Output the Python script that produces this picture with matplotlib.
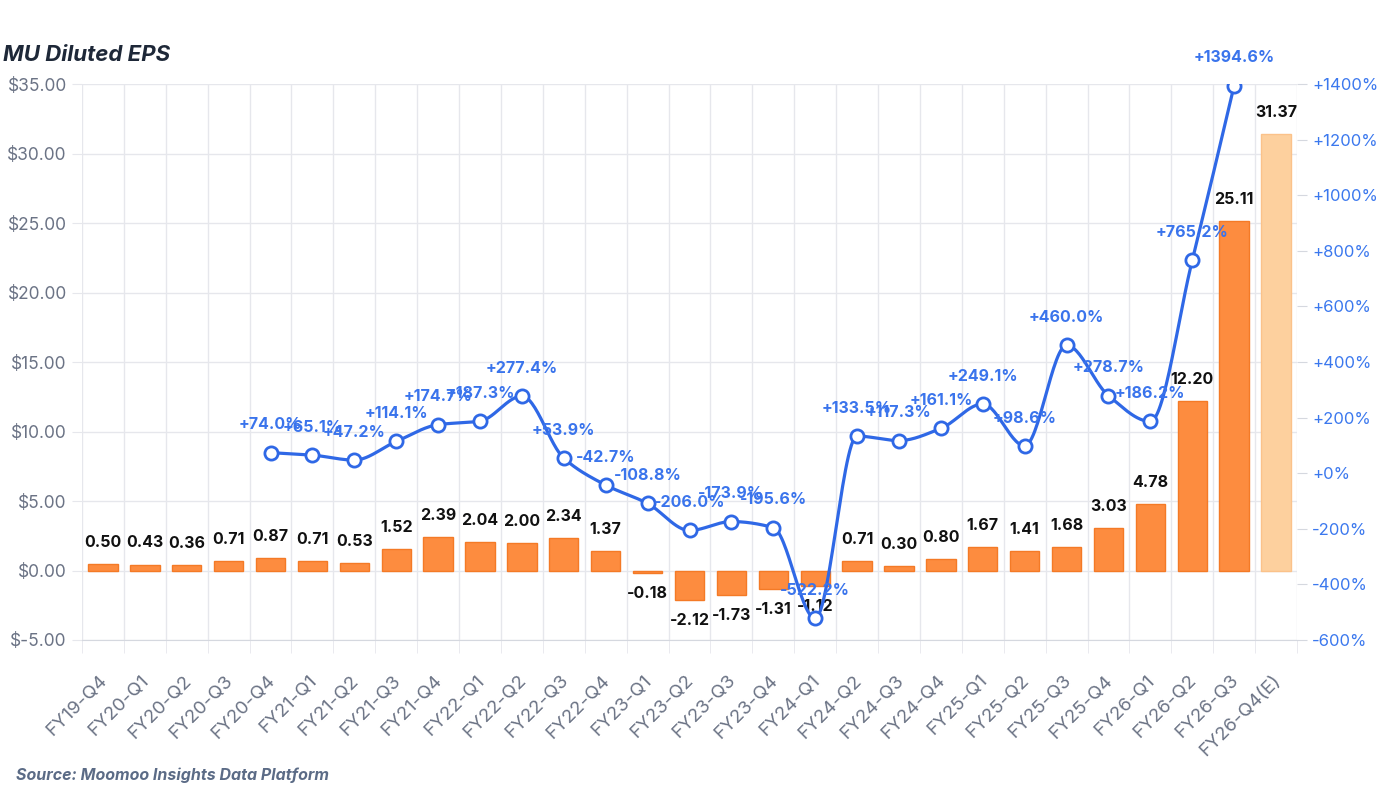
import numpy as np
import matplotlib
matplotlib.use("Agg")
import matplotlib.pyplot as plt
import matplotlib.transforms as mtransforms
from matplotlib.ticker import FixedLocator, FuncFormatter

plt.rcParams['font.family'] = ['Inter', 'DejaVu Sans']

categories = ["FY19-Q4", "FY20-Q1", "FY20-Q2", "FY20-Q3", "FY20-Q4", "FY21-Q1", "FY21-Q2",
              "FY21-Q3", "FY21-Q4", "FY22-Q1", "FY22-Q2", "FY22-Q3", "FY22-Q4", "FY23-Q1",
              "FY23-Q2", "FY23-Q3", "FY23-Q4", "FY24-Q1", "FY24-Q2", "FY24-Q3", "FY24-Q4",
              "FY25-Q1", "FY25-Q2", "FY25-Q3", "FY25-Q4", "FY26-Q1", "FY26-Q2", "FY26-Q3",
              "FY26-Q4(E)"]
eps = [0.50, 0.43, 0.36, 0.71, 0.87, 0.71, 0.53, 1.52, 2.39, 2.04, 2.00, 2.34, 1.37, -0.18,
       -2.12, -1.73, -1.31, -1.12, 0.71, 0.30, 0.80, 1.67, 1.41, 1.68, 3.03, 4.78, 12.20,
       25.11, 31.37]
estimate_flags = [False] * 28 + [True]
yoy_growth = [None, None, None, None, 74.0, 65.1, 47.2, 114.1, 174.7, 187.3, 277.4, 53.9,
              -42.7, -108.8, -206.0, -173.9, -195.6, -522.2, 133.5, 117.3, 161.1, 249.1,
              98.6, 460.0, 278.7, 186.2, 765.2, 1394.6, None]

BAR = "#FD8C3F"
BAR_EDGE = "#F47A26"
BAR_E = "#FDD09E"
BAR_E_EDGE = "#FBC28A"
BLUE = "#2F68E6"
GRID = "#E6E7EC"
GRAY = "#6B7385"


def monotone_curve(xs, ys, n=30):
    xs = np.asarray(xs, float)
    ys = np.asarray(ys, float)
    h = np.diff(xs)
    d = np.diff(ys) / h
    m = np.zeros_like(ys)
    m[0], m[-1] = d[0], d[-1]
    for k in range(1, len(ys) - 1):
        if d[k - 1] * d[k] <= 0:
            m[k] = 0
        else:
            w1 = 2 * h[k] + h[k - 1]
            w2 = h[k] + 2 * h[k - 1]
            m[k] = (w1 + w2) / (w1 / d[k - 1] + w2 / d[k])
    px, py = [], []
    for k in range(len(xs) - 1):
        t = np.linspace(0, 1, n)
        h00 = 2 * t**3 - 3 * t**2 + 1
        h10 = t**3 - 2 * t**2 + t
        h01 = -2 * t**3 + 3 * t**2
        h11 = t**3 - t**2
        px.extend(xs[k] + t * h[k])
        py.extend(h00 * ys[k] + h10 * h[k] * m[k] + h01 * ys[k + 1] + h11 * h[k] * m[k + 1])
    return np.array(px), np.array(py)


fig = plt.figure(figsize=(13.83, 7.95), dpi=100)
ax = fig.add_axes([82 / 1383, 1 - 640 / 795, (1297 - 82) / 1383, (640 - 84) / 795])
ax2 = ax.twinx()

x = np.arange(len(categories))
colors = [BAR_E if e else BAR for e in estimate_flags]
edges = [BAR_E_EDGE if e else BAR_EDGE for e in estimate_flags]
ax.bar(x, eps, width=0.7, color=colors, edgecolor=edges, linewidth=1, zorder=2)

for xi, v in zip(x, eps):
    off = 15.5 if v >= 0 else -15
    ax.annotate(f"{v:.2f}", (xi, v), xytext=(0, off), textcoords="offset points",
                ha="center", va="center", fontsize=11.5, fontweight="bold", color="#111111",
                zorder=5)

ax.set_xlim(-0.5, len(categories) - 0.5)
ax.set_ylim(-5, 35)
ax.yaxis.set_major_locator(FixedLocator(np.arange(-5, 36, 5)))
ax.yaxis.set_major_formatter(FuncFormatter(lambda v, p: f"${v:.2f}"))
ax.tick_params(axis="y", length=7, color=GRID, labelcolor=GRAY, labelsize=12.5, pad=4)
ax.grid(axis="y", color=GRID, linewidth=1, zorder=0)

ax.set_xticks(x)
ax.set_xticklabels(categories, rotation=45, ha="right", rotation_mode="anchor")
ax.tick_params(axis="x", which="major", length=0, pad=23, labelsize=13.5, labelcolor=GRAY)
shift = mtransforms.ScaledTranslation(-4 / 100, 0, fig.dpi_scale_trans)
for lab in ax.get_xticklabels():
    lab.set_transform(lab.get_transform() + shift)
ax.xaxis.set_minor_locator(FixedLocator(np.arange(-0.5, len(categories), 1)))
ax.tick_params(axis="x", which="minor", length=9, color=GRID)
ax.grid(axis="x", which="minor", color=GRID, linewidth=1, zorder=0)
ax.set_axisbelow(True)

for s in ["top", "right", "left"]:
    ax.spines[s].set_visible(False)
    ax2.spines[s].set_visible(False)
ax.spines["bottom"].set_color("#D5D8DF")
ax2.spines["bottom"].set_visible(False)

gx = [i for i, g in enumerate(yoy_growth) if g is not None]
gy = [g for g in yoy_growth if g is not None]
cx, cy = monotone_curve(gx, gy)
ax2.plot(cx, cy, color=BLUE, linewidth=2.3, zorder=3, solid_capstyle="round")
ax2.plot(gx, gy, linestyle="none", marker="o", markersize=9.5, markerfacecolor="white",
         markeredgecolor=BLUE, markeredgewidth=2, zorder=4)
for xi, g in zip(gx, gy):
    ax2.annotate(f"{g:+.1f}%", (xi, g), xytext=(0, 20), textcoords="offset points",
                 ha="center", va="center", fontsize=11.5, fontweight="bold", color="#3A74EC",
                 zorder=6)

ax2.set_ylim(-600, 1400)
ax2.yaxis.set_major_locator(FixedLocator(np.arange(-600, 1401, 200)))
ax2.yaxis.set_major_formatter(FuncFormatter(lambda v, p: f"+{v:.0f}%" if v >= 0 else f"{v:.0f}%"))
ax2.tick_params(axis="y", length=7, color="#D5D8DF", labelcolor="#3B78EE", labelsize=12, pad=4)

fig.text(3 / 1383, 1 - 55 / 795, "MU Diluted EPS", fontsize=16, fontweight="bold",
         fontstyle="italic", color="#1E2838", ha="left", va="center")
fig.text(16 / 1383, 1 - 775 / 795, "Source: Moomoo Insights Data Platform", fontsize=11.5,
         fontweight="bold", fontstyle="italic", color="#5B6B86", ha="left", va="center")

fig.savefig("out.png", dpi=100)
